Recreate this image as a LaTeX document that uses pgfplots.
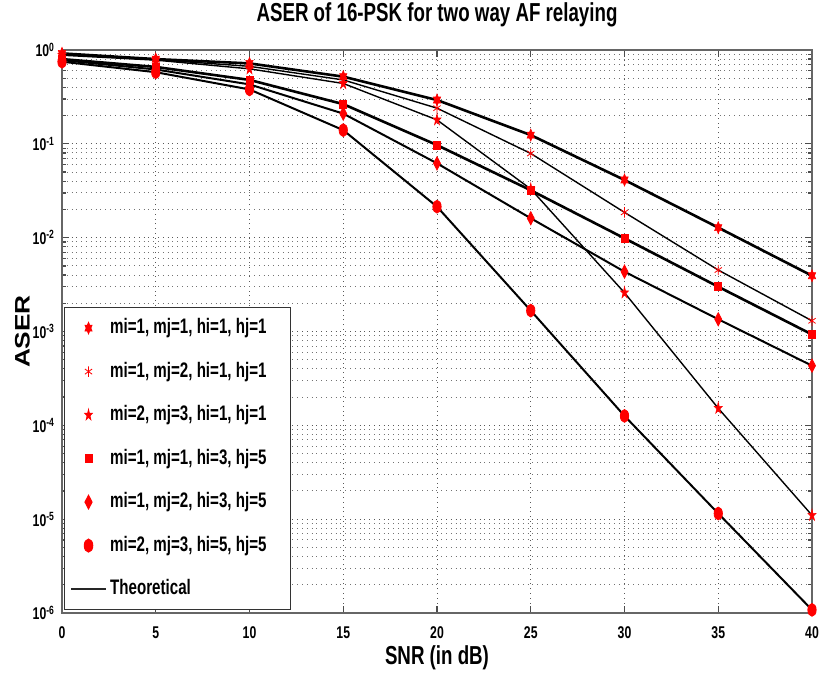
\documentclass[border=0pt]{standalone}
\usepackage{fontspec}
\setmainfont[FakeStretch=0.72]{Liberation Sans}
\newfontfamily\plainsans{Liberation Sans}
\usepackage{graphicx}
\usepackage{pgfplots}
\usepackage{pgfplotstable}
\pgfplotsset{compat=1.18}

\pgfdeclareplotmark{hexagram}{%
  \pgfpathmoveto{\pgfqpoint{0pt}{\pgfplotmarksize}}%
  \pgfpathlineto{\pgfqpoint{-0.2887\pgfplotmarksize}{0.5\pgfplotmarksize}}%
  \pgfpathlineto{\pgfqpoint{-0.866\pgfplotmarksize}{0.5\pgfplotmarksize}}%
  \pgfpathlineto{\pgfqpoint{-0.577\pgfplotmarksize}{0pt}}%
  \pgfpathlineto{\pgfqpoint{-0.866\pgfplotmarksize}{-0.5\pgfplotmarksize}}%
  \pgfpathlineto{\pgfqpoint{-0.2887\pgfplotmarksize}{-0.5\pgfplotmarksize}}%
  \pgfpathlineto{\pgfqpoint{0pt}{-\pgfplotmarksize}}%
  \pgfpathlineto{\pgfqpoint{0.2887\pgfplotmarksize}{-0.5\pgfplotmarksize}}%
  \pgfpathlineto{\pgfqpoint{0.866\pgfplotmarksize}{-0.5\pgfplotmarksize}}%
  \pgfpathlineto{\pgfqpoint{0.577\pgfplotmarksize}{0pt}}%
  \pgfpathlineto{\pgfqpoint{0.866\pgfplotmarksize}{0.5\pgfplotmarksize}}%
  \pgfpathlineto{\pgfqpoint{0.2887\pgfplotmarksize}{0.5\pgfplotmarksize}}%
  \pgfpathclose
  \pgfusepathqfillstroke
}
\pgfdeclareplotmark{pentagram}{%
  \pgfpathmoveto{\pgfqpoint{0pt}{\pgfplotmarksize}}%
  \pgfpathlineto{\pgfqpoint{-0.2245\pgfplotmarksize}{0.309\pgfplotmarksize}}%
  \pgfpathlineto{\pgfqpoint{-0.9511\pgfplotmarksize}{0.309\pgfplotmarksize}}%
  \pgfpathlineto{\pgfqpoint{-0.3633\pgfplotmarksize}{-0.118\pgfplotmarksize}}%
  \pgfpathlineto{\pgfqpoint{-0.5878\pgfplotmarksize}{-0.809\pgfplotmarksize}}%
  \pgfpathlineto{\pgfqpoint{0pt}{-0.382\pgfplotmarksize}}%
  \pgfpathlineto{\pgfqpoint{0.5878\pgfplotmarksize}{-0.809\pgfplotmarksize}}%
  \pgfpathlineto{\pgfqpoint{0.3633\pgfplotmarksize}{-0.118\pgfplotmarksize}}%
  \pgfpathlineto{\pgfqpoint{0.9511\pgfplotmarksize}{0.309\pgfplotmarksize}}%
  \pgfpathlineto{\pgfqpoint{0.2245\pgfplotmarksize}{0.309\pgfplotmarksize}}%
  \pgfpathclose
  \pgfusepathqfillstroke
}

% mi=1, mj=1, hi=1, hj=1
\pgfplotstableread{
x y
0 0.92
5 0.80
10 0.72
15 0.52
20 0.293
25 0.124
30 0.0412
35 0.0128
40 0.00393
}\sA
% mi=1, mj=2, hi=1, hj=1
\pgfplotstableread{
x y
0 0.90
5 0.79
10 0.67
15 0.48
20 0.24
25 0.079
30 0.0186
35 0.00452
40 0.00130
}\sB
% mi=2, mj=3, hi=1, hj=1
\pgfplotstableread{
x y
0 0.88
5 0.78
10 0.63
15 0.44
20 0.18
25 0.033
30 0.00259
35 0.000152
40 0.000011
}\sC
% mi=1, mj=1, hi=3, hj=5
\pgfplotstableread{
x y
0 0.80
5 0.66
10 0.48
15 0.265
20 0.097
25 0.032
30 0.00984
35 0.0030
40 0.00093
}\sD
% mi=1, mj=2, hi=3, hj=5
\pgfplotstableread{
x y
0 0.78
5 0.62
10 0.43
15 0.21
20 0.062
25 0.0161
30 0.00434
35 0.00135
40 0.000432
}\sE
% mi=2, mj=3, hi=5, hj=5
\pgfplotstableread{
x y
0 0.75
5 0.58
10 0.38
15 0.14
20 0.0214
25 0.00167
30 0.000126
35 0.0000115
40 0.00000108
}\sF

\begin{document}
\begin{tikzpicture}
\begin{semilogyaxis}[
  name=ax,
  scale only axis, width=375pt, height=281.5pt,
  xmin=0, xmax=40, ymin=1e-6, ymax=1,
  xtick={0,5,...,40},
  ytick={1e-6,1e-5,1e-4,1e-3,1e-2,1e-1,1},
  yticklabels={10\textsuperscript{-6},10\textsuperscript{-5},10\textsuperscript{-4},10\textsuperscript{-3},10\textsuperscript{-2},10\textsuperscript{-1},10\textsuperscript{0}},
  minor ytick={2e-6,3e-6,4e-6,5e-6,6e-6,7e-6,8e-6,9e-6,
               2e-5,3e-5,4e-5,5e-5,6e-5,7e-5,8e-5,9e-5,
               2e-4,3e-4,4e-4,5e-4,6e-4,7e-4,8e-4,9e-4,
               2e-3,3e-3,4e-3,5e-3,6e-3,7e-3,8e-3,9e-3,
               2e-2,3e-2,4e-2,5e-2,6e-2,7e-2,8e-2,9e-2,
               0.2,0.3,0.4,0.5,0.6,0.7,0.8,0.9},
  grid=both,
  major grid style={dotted, black!65, line width=0.5pt},
  minor grid style={dotted, black!55, line width=0.5pt},
  tick align=inside,
  major tick length=3.5pt, minor tick length=2pt,
  tick style={black!70, line width=0.6pt},
  axis line style={black!60, line width=1pt},
  /pgf/number format/assume math mode=true,
  ticklabel style={font=\bfseries\fontsize{8.5}{10}\selectfont},
  xticklabel style={yshift=-3.5pt},
  title={ASER of 16-PSK for two way AF relaying},
  title style={font=\bfseries\fontsize{13}{15}\selectfont, at={(0.5,1)}, anchor=base, yshift=8.5pt},
  xlabel={SNR (in dB)},
  xlabel style={font=\bfseries\fontsize{13}{15}\selectfont, at={(axis description cs:0.5,0)}, anchor=base, yshift=-25.5pt},
  ylabel={\scalebox{1.25}[1]{\plainsans\bfseries\fontsize{10.5}{12}\selectfont ASER}},
  ylabel style={at={(axis description cs:-0.0527,0.5)}, anchor=center},
  legend style={
    at={(0.003,0.005)}, anchor=south west,
    draw=black!80, line width=0.6pt, fill=white,
    font=\bfseries\fontsize{10.5}{12.6}\selectfont,
    row sep=7.25pt,
    inner xsep=3pt, inner ysep=3pt,
    nodes={inner sep=2pt, text height=8pt, text depth=2.5pt},
    cells={anchor=west},
  },
]
% measured points (red markers)
\addplot[only marks, mark=hexagram, mark size=3pt, mark options={fill=red, draw=red, xscale=0.7, line width=0.3pt}] table {\sA};
\addlegendentry{mi=1, mj=1, hi=1, hj=1\hspace*{7pt}}
\addplot[only marks, mark=asterisk, mark size=2.6pt, mark options={draw=red, xscale=0.8, line width=0.4pt}] table {\sB};
\addlegendentry{mi=1, mj=2, hi=1, hj=1\hspace*{7pt}}
\addplot[only marks, mark=pentagram, mark size=3pt, mark options={fill=red, draw=red, xscale=0.7, line width=0.3pt}] table {\sC};
\addlegendentry{mi=2, mj=3, hi=1, hj=1\hspace*{7pt}}
\addplot[only marks, mark=square*, mark size=2pt, mark options={fill=red, draw=red, xscale=0.85}] table {\sD};
\addlegendentry{mi=1, mj=1, hi=3, hj=5\hspace*{7pt}}
\addplot[only marks, mark=diamond*, mark size=3.3pt, mark options={fill=red, draw=red, xscale=0.7}] table {\sE};
\addlegendentry{mi=1, mj=2, hi=3, hj=5\hspace*{7pt}}
\addplot[only marks, mark=*, mark size=3.2pt, mark options={fill=red, draw=red, xscale=0.65}] table {\sF};
\addlegendentry{mi=2, mj=3, hi=5, hj=5\hspace*{7pt}}
% theoretical curves (black lines)
\addplot[black, line width=1.3pt, no marks, forget plot] table {\sA};
\addplot[black, line width=0.7pt, no marks, forget plot] table {\sB};
\addplot[black, line width=0.7pt, no marks, forget plot] table {\sC};
\addplot[black, line width=1.3pt, no marks, forget plot] table {\sD};
\addplot[black, line width=1.0pt, no marks, forget plot] table {\sE};
\addplot[black, line width=1.0pt, no marks, forget plot] table {\sF};
\addlegendimage{black!85, line width=0.6pt, no marks}
\addlegendentry{Theoretical}
\end{semilogyaxis}
\pgfresetboundingbox
\path[use as bounding box] ([shift={(-31pt,-31pt)}]ax.south west) rectangle ([shift={(3.5pt,25pt)}]ax.north east);
\end{tikzpicture}
\end{document}
